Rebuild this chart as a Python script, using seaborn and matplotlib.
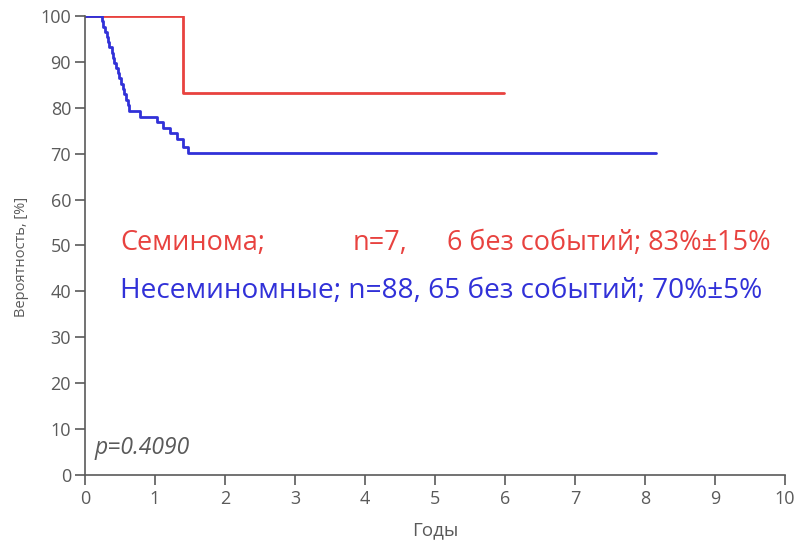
import matplotlib
matplotlib.use("Agg")
import matplotlib.pyplot as plt
import seaborn as sns
import pandas as pd

# Kaplan-Meier steps (years, survival %)
sem_time = [0.0, 1.40, 5.98]
sem_surv = [100.0, 83.3, 83.3]

nonsem_time = [0.0, 0.24, 0.26, 0.29, 0.31, 0.33, 0.35, 0.38, 0.40, 0.42, 0.45,
               0.47, 0.49, 0.52, 0.54, 0.56, 0.58, 0.61, 0.63, 0.79,
               1.03, 1.11, 1.21, 1.31, 1.40, 1.47, 8.16]
nonsem_surv = [100.0, 98.9, 97.7, 96.6, 95.5, 94.3, 93.2, 92.0, 90.9, 89.8, 88.6,
               87.5, 86.4, 85.2, 84.1, 83.0, 81.8, 80.7, 79.4, 78.0,
               76.8, 75.7, 74.4, 73.2, 71.5, 70.2, 70.2]

x_ticks = list(range(0, 11))
y_ticks = list(range(0, 101, 10))

# legend-like annotation, seminoma row is split in tab-separated columns
sem_parts = ["Семинома;", "n=7,", "6 без событий; 83%±15%"]
sem_part_x = [0.50, 3.83, 5.17]
nonsem_label = "Несеминомные; n=88, 65 без событий; 70%±5%"
p_label = "p=0.4090"

RED = "#e8423f"
BLUE = "#3131d8"
GRAY = "#5a5a5a"

sns.set_theme(style="white")
plt.rcParams["font.family"] = ["Open Sans", "DejaVu Sans"]

fig = plt.figure(figsize=(7.98, 5.49), dpi=100)
ax = fig.add_axes([0.1065, 0.1348, 0.8772, 0.8361])

df_sem = pd.DataFrame({"t": sem_time, "s": sem_surv})
df_non = pd.DataFrame({"t": nonsem_time, "s": nonsem_surv})

sns.lineplot(data=df_sem, x="t", y="s", ax=ax, color=RED, linewidth=2,
             drawstyle="steps-post", estimator=None, sort=False)
sns.lineplot(data=df_non, x="t", y="s", ax=ax, color=BLUE, linewidth=2,
             drawstyle="steps-post", estimator=None, sort=False)

ax.set_xlim(0, 10)
ax.set_ylim(0, 100)
ax.set_xticks(x_ticks)
ax.set_yticks(y_ticks)
ax.tick_params(axis="both", direction="out", length=7, width=1.2,
               color=GRAY, labelcolor=GRAY, labelsize=13, bottom=True, left=True)
ax.tick_params(axis="y", pad=3)
ax.tick_params(axis="x", pad=4)

for side in ("top", "right"):
    ax.spines[side].set_visible(False)
for side in ("left", "bottom"):
    ax.spines[side].set_color(GRAY)
    ax.spines[side].set_linewidth(1.2)

ax.set_xlabel("Годы", color=GRAY, fontsize=13.5)
ax.set_ylabel("Вероятность, [%]", color=GRAY, fontsize=10.5)
ax.xaxis.set_label_coords(0.5, -0.10)
ax.yaxis.set_label_coords(-0.080, 0.475)

for part, xp in zip(sem_parts, sem_part_x):
    ax.text(xp, 50.5, part, color=RED, fontsize=19.5, va="center", ha="left")
ax.text(0.50, 40.0, nonsem_label, color=BLUE, fontsize=20.2, va="center", ha="left")
ax.text(0.14, 5.8, p_label, color=GRAY, fontsize=16.5, style="italic",
        va="center", ha="left")

fig.savefig("out.png", dpi=100)
